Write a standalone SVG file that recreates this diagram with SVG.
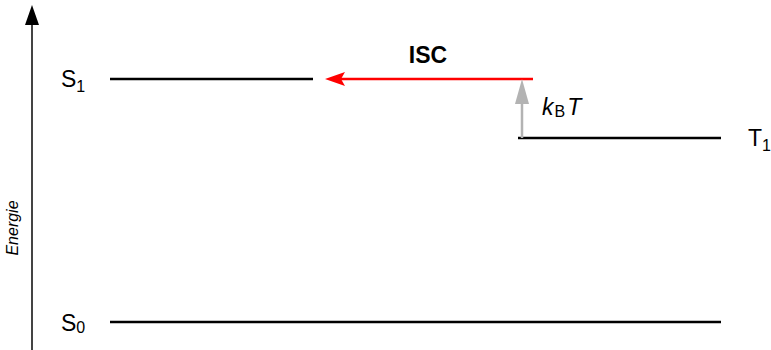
<svg xmlns="http://www.w3.org/2000/svg" width="771" height="350" viewBox="0 0 771 350">
<style>
text{font-family:"Liberation Sans",Arial,sans-serif;fill:#000}
.lbl{font-size:23px}
.sub{font-size:16px}
.lvl{stroke:#000;stroke-width:2.5;fill:none}
</style>
<rect width="771" height="350" fill="#fff"/>
<g id="axis">
<line x1="32" y1="350" x2="32" y2="20" stroke="#444" stroke-width="2"/>
<polygon points="32,5 25,25 39,25" fill="#000"/>
<text x="0" y="0" font-size="16" font-style="italic" text-anchor="middle" transform="translate(18,228) rotate(-90)">Energie</text>
</g>
<g id="S1">
<line class="lvl" x1="110" y1="79" x2="313" y2="79"/>
<text class="lbl" x="61" y="87">S<tspan class="sub" dy="5">1</tspan></text>
</g>
<g id="T1">
<line class="lvl" x1="518" y1="138" x2="721" y2="138"/>
<text class="lbl" x="748" y="146">T<tspan class="sub" dy="5">1</tspan></text>
</g>
<g id="S0">
<line class="lvl" x1="110" y1="322" x2="721" y2="322"/>
<text class="lbl" x="61" y="331">S<tspan class="sub" dy="2">0</tspan></text>
</g>
<g id="connectors">
<line x1="533" y1="79" x2="340" y2="79" stroke="#f00" stroke-width="2.5"/>
<polygon points="325,79 345,72 341,79 345,86" fill="#f00"/>
<line x1="522" y1="138" x2="522" y2="100" stroke="#b3b3b3" stroke-width="2.5"/>
<polygon points="522,79 515,104 529,104" fill="#b3b3b3"/>
<text x="428" y="63" font-size="23" font-weight="bold" text-anchor="middle">ISC</text>
<text class="lbl" x="542" y="115"><tspan font-style="italic">k</tspan><tspan class="sub" dx="1" dy="2">B</tspan><tspan font-style="italic" dx="2" dy="-2">T</tspan></text>
</g>
</svg>
